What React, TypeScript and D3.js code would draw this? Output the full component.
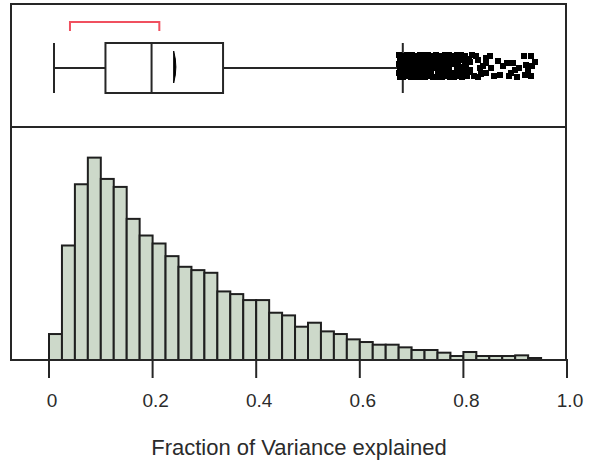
import React from "react";
import * as d3 from "d3";

// Histogram: bin edges start at 0 with width 0.025
const binWidth = 0.025;
const binCounts = [
  78, 344, 528, 608, 544, 520, 424, 374, 350, 312, 280, 270, 262, 206, 198, 180, 180, 142, 134,
  100, 112, 86, 78, 62, 54, 46, 46, 38, 30, 30, 22, 12, 24, 12, 12, 12, 14, 6,
];
const countMax = 700;

// Box plot summary
const whiskerLow = 0.0097;
const q1 = 0.109;
const median = 0.198;
const meanValue = 0.243;
const q3 = 0.336;
const whiskerHigh = 0.683;
const shortestHalf = [0.0405, 0.213];

// Outliers (value, vertical jitter in -1..1)
const outlierValues = [
  0.676, 0.677, 0.675, 0.678, 0.676, 0.677,
  0.684, 0.685, 0.683, 0.686, 0.684, 0.683,
  0.692, 0.691, 0.693, 0.692, 0.694, 0.691,
  0.7, 0.701, 0.699, 0.702, 0.7, 0.698,
  0.708, 0.707, 0.709, 0.708, 0.706, 0.709,
  0.716, 0.717, 0.715, 0.716, 0.718, 0.715,
  0.724, 0.723, 0.725, 0.724, 0.722, 0.726,
  0.732, 0.733, 0.731, 0.732, 0.734, 0.731,
  0.74, 0.739, 0.741, 0.74, 0.738, 0.742,
  0.748, 0.749, 0.747, 0.748, 0.75, 0.747,
  0.756, 0.755, 0.757, 0.756, 0.754, 0.758,
  0.764, 0.765, 0.763, 0.764, 0.766, 0.763,
  0.772, 0.771, 0.773, 0.772, 0.77, 0.774,
  0.78, 0.781, 0.779, 0.78, 0.782,
  0.788, 0.787, 0.789, 0.788, 0.79, 0.787,
  0.796, 0.797, 0.795, 0.796, 0.798,
  0.804, 0.803, 0.805, 0.804, 0.806,
  0.817, 0.824, 0.82, 0.828, 0.838, 0.844, 0.844, 0.844, 0.832, 0.853,
  0.867, 0.871, 0.884, 0.896, 0.892, 0.903, 0.917, 0.93, 0.921, 0.932,
  0.919, 0.93, 0.907, 0.81, 0.812,
  0.813, 0.813, 0.828, 0.834, 0.851, 0.859, 0.876, 0.888, 0.9, 0.925, 0.938,
];
const outlierJitter = [
  -0.98, -0.55, -0.18, 0.22, 0.61, 0.97,
  -0.95, -0.62, -0.2, 0.18, 0.58, 1.0,
  -1.0, -0.58, -0.22, 0.2, 0.63, 0.95,
  -0.97, -0.6, -0.17, 0.21, 0.6, 0.98,
  -0.94, -0.57, -0.21, 0.23, 0.59, 0.99,
  -0.99, -0.61, -0.19, 0.17, 0.62, 0.96,
  -0.96, -0.56, -0.16, 0.24, 0.57, 0.98,
  -1.0, -0.59, -0.23, 0.19, 0.61, 0.94,
  -0.95, -0.63, -0.2, 0.22, 0.6, 1.0,
  -0.98, -0.57, -0.18, 0.2, 0.64, 0.97,
  -0.93, -0.6, -0.22, 0.18, 0.58, 0.99,
  -0.97, -0.55, -0.2, 0.25, 0.62, 0.95,
  -0.99, -0.62, -0.17, 0.21, 0.59, 1.0,
  -0.94, -0.58, -0.2, 0.6, 0.97,
  -1.0, -0.61, -0.22, 0.19, 0.63, 0.95,
  -0.96, -0.56, 0.05, 0.58, 0.98,
  -0.92, -0.45, 0.0, 0.5, 0.95,
  -0.96, -0.87, 0.87, 0.96, 0.0, -0.7, -0.26, 0.61, 0.17, 0.17,
  -0.43, 0.78, -0.26, -0.26, 0.61, 0.96, -0.87, -0.87, -0.09, 0.0,
  0.78, 0.87, 0.17, -0.6, 0.55,
  -0.36, 0.36, -0.55, 0.73, -0.9, 0.9, 0.0, 0.9, 0.36, 0.45, -0.36,
];

const tickValues = [0, 0.2, 0.4, 0.6, 0.8, 1.0];
const tickLabels = ["0", "0.2", "0.4", "0.6", "0.8", "1.0"];
const xTitle = "Fraction of Variance explained";

const W = 597;
const H = 465;
const frameLeft = 11;
const frameRight = 566;
const frameTop = 4;
const dividerY = 127;
const baseY = 360;
const boxCY = 68;
const boxTop = 43;
const boxBot = 93;
const outlierCY = 66;
const outlierAmp = 11;
const outlierSize = 6;
const ink = "#262626";
const font = "'Liberation Sans', Arial, Helvetica, sans-serif";

export default function App() {
  const x = d3.scaleLinear().domain([0, 1]).range([49, 567]);
  const y = d3.scaleLinear().domain([0, countMax]).range([baseY, dividerY]);

  const bars = binCounts.map((c, i) => {
    const x0 = x(i * binWidth);
    const x1 = x((i + 1) * binWidth);
    return { x0, x1, y: y(c) };
  });

  const mx = x(meanValue);
  const meanPath = `M${mx - 1.2},${51} Q${mx + 3.2},${67} ${mx - 1.2},${83} Z`;

  return (
    <svg
      width={W}
      height={H}
      viewBox={`0 0 ${W} ${H}`}
      style={{ position: "absolute", left: 0, top: 0, background: "#fff" }}
    >
      {/* histogram bars */}
      {bars.map((b, i) => (
        <rect
          key={i}
          x={b.x0}
          y={b.y}
          width={b.x1 - b.x0}
          height={baseY - b.y}
          fill="#cdd9ca"
          stroke="#1f1f1f"
          strokeWidth={2}
        />
      ))}

      {/* frame */}
      <rect
        x={frameLeft}
        y={frameTop}
        width={frameRight - frameLeft}
        height={dividerY - frameTop}
        fill="none"
        stroke={ink}
        strokeWidth={2}
      />
      <line x1={frameLeft} x2={frameLeft} y1={dividerY} y2={baseY} stroke={ink} strokeWidth={2} />
      <line x1={frameRight} x2={frameRight} y1={dividerY} y2={baseY} stroke={ink} strokeWidth={2} />
      <line x1={frameLeft - 1} x2={x(1) + 1} y1={baseY} y2={baseY} stroke={ink} strokeWidth={2} />

      {/* ticks */}
      {tickValues.map((t, i) => (
        <g key={i}>
          <line x1={x(t)} x2={x(t)} y1={baseY} y2={378} stroke={ink} strokeWidth={2} />
          <text
            x={x(t) + 3}
            y={407}
            textAnchor="middle"
            fontFamily={font}
            fontSize={19}
            fill="#2b2b2b"
          >
            {tickLabels[i]}
          </text>
        </g>
      ))}
      <text x={299} y={455} textAnchor="middle" fontFamily={font} fontSize={22} fill="#2b2b2b">
        {xTitle}
      </text>

      {/* shortest half bracket */}
      <path
        d={`M${x(shortestHalf[0])},31 V22 H${x(shortestHalf[1])} V31`}
        fill="none"
        stroke="#f0505f"
        strokeWidth={2}
      />

      {/* box plot */}
      <line x1={x(whiskerLow)} x2={x(q1)} y1={boxCY} y2={boxCY} stroke={ink} strokeWidth={2} />
      <line x1={x(q3)} x2={x(whiskerHigh)} y1={boxCY} y2={boxCY} stroke={ink} strokeWidth={2} />
      <line x1={x(whiskerLow)} x2={x(whiskerLow)} y1={boxTop} y2={boxBot} stroke={ink} strokeWidth={2} />
      <line x1={x(whiskerHigh)} x2={x(whiskerHigh)} y1={boxTop} y2={boxBot} stroke={ink} strokeWidth={2} />
      <rect
        x={x(q1)}
        y={boxTop}
        width={x(q3) - x(q1)}
        height={boxBot - boxTop}
        fill="none"
        stroke={ink}
        strokeWidth={2}
      />
      <line x1={x(median)} x2={x(median)} y1={boxTop} y2={boxBot} stroke={ink} strokeWidth={2} />
      <path d={meanPath} fill="#000" stroke="#000" strokeWidth={1} />

      {/* outliers */}
      <g shapeRendering="crispEdges">
        {outlierValues.map((v, i) => (
          <rect
            key={i}
            x={x(v) - outlierSize / 2}
            y={outlierCY + outlierJitter[i] * outlierAmp - outlierSize / 2}
            width={outlierSize}
            height={outlierSize}
            fill="#000"
          />
        ))}
      </g>
    </svg>
  );
}
